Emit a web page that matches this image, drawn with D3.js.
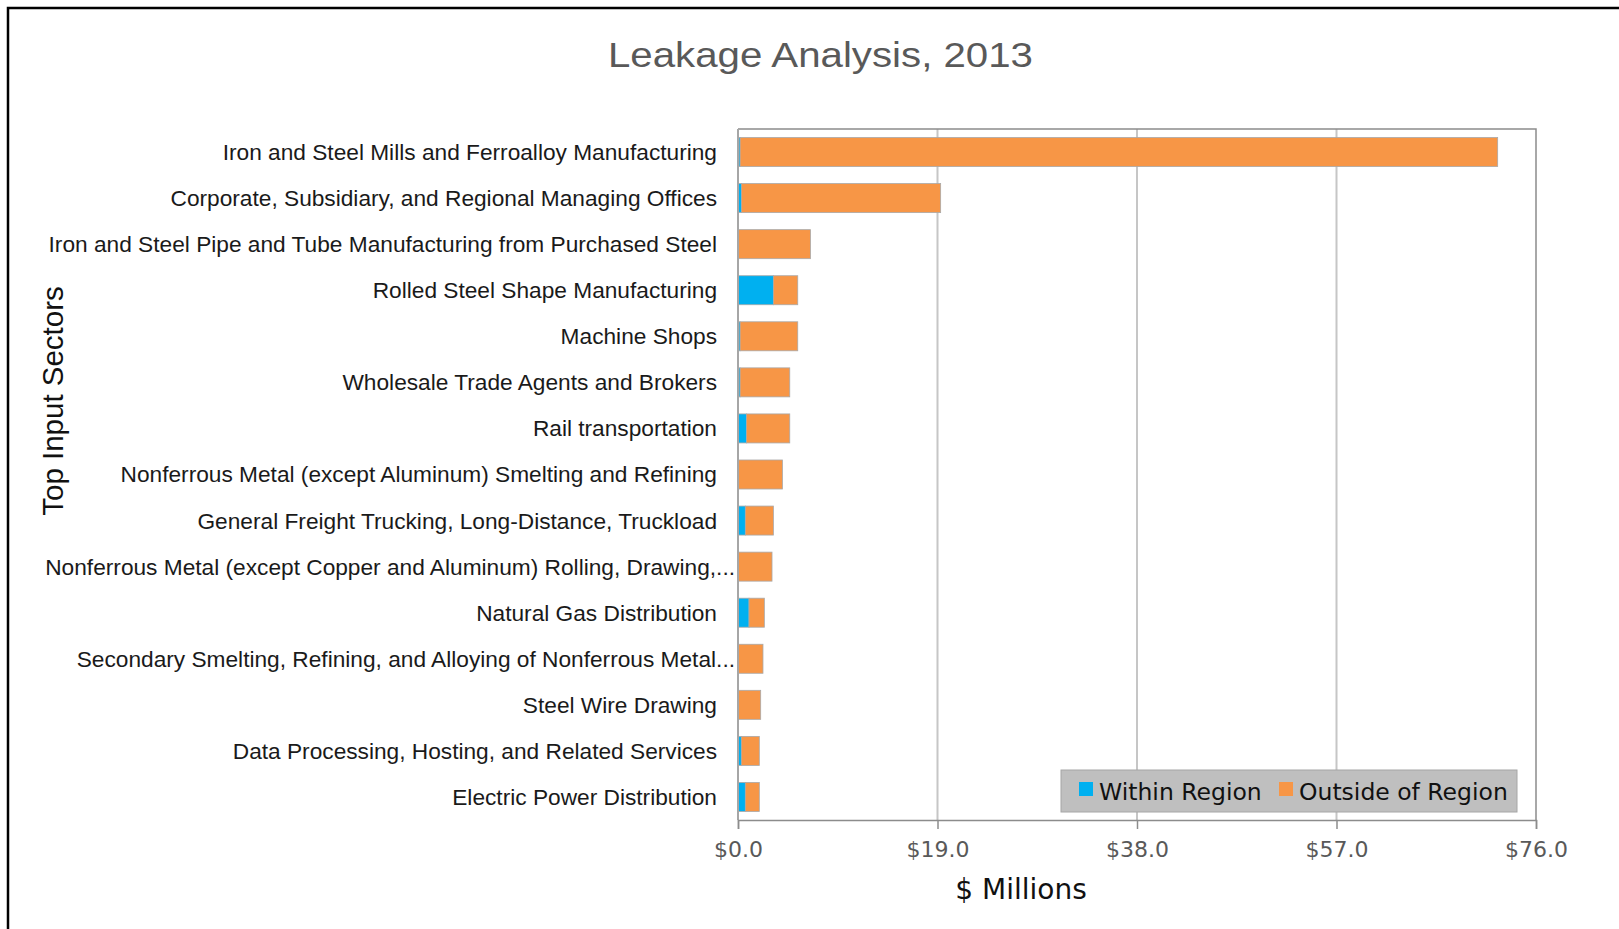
<!DOCTYPE html>
<html>
<head>
<meta charset="utf-8">
<script src="https://cdn.jsdelivr.net/npm/d3@7"></script>
<style>
  html, body { margin: 0; padding: 0; background: #fff; }
  svg { display: block; }
</style>
</head>
<body>
<svg id="chart" width="1619" height="929"></svg>
<script>
const categories = [
  "Iron and Steel Mills and Ferroalloy Manufacturing",
  "Corporate, Subsidiary, and Regional Managing Offices",
  "Iron and Steel Pipe and Tube Manufacturing from Purchased Steel",
  "Rolled Steel Shape Manufacturing",
  "Machine Shops",
  "Wholesale Trade Agents and Brokers",
  "Rail transportation",
  "Nonferrous Metal (except Aluminum) Smelting and Refining",
  "General Freight Trucking, Long-Distance, Truckload",
  "Nonferrous Metal (except Copper and Aluminum) Rolling, Drawing,...",
  "Natural Gas Distribution",
  "Secondary Smelting, Refining, and Alloying of Nonferrous Metal...",
  "Steel Wire Drawing",
  "Data Processing, Hosting, and Related Services",
  "Electric Power Distribution"
];
const withinRegion  = [0.2, 0.33, 0.05, 3.37, 0.2, 0.2, 0.8, 0.03, 0.7, 0.03, 1.05, 0.03, 0.03, 0.32, 0.7];
const outsideRegion = [72.15, 18.97, 6.85, 2.32, 5.49, 4.73, 4.13, 4.2, 2.67, 3.21, 1.46, 2.35, 2.13, 1.71, 1.33];
const seriesNames = ["Within Region", "Outside of Region"];
const xTicks = [0, 19, 38, 57, 76];
const titleText = "Leakage Analysis, 2013";
const xTitle = "$ Millions";
const yTitle = "Top Input Sectors";

const colors = ["#00b0f0", "#f79646"];
const svg = d3.select("#chart");

// outer frame
svg.append("rect").attr("x", 8).attr("y", 8).attr("width", 1700).attr("height", 1000)
  .attr("fill", "none").attr("stroke", "#000").attr("stroke-width", 2.5);

const plot = { left: 738, right: 1536, top: 129, bottom: 820 };
const x = d3.scaleLinear().domain([0, 76]).range([plot.left, plot.right]);
const y = d3.scaleBand().domain(categories).range([plot.top, plot.bottom])
  .paddingInner(0.37).paddingOuter(0.185);

// gridlines
svg.append("g").selectAll("line").data(xTicks.slice(1, -1)).join("line")
  .attr("x1", d => x(d)).attr("x2", d => x(d))
  .attr("y1", plot.top).attr("y2", plot.bottom)
  .attr("stroke", "#c6c6c6").attr("stroke-width", 2);

// plot border top/right
svg.append("path")
  .attr("d", `M${plot.left},${plot.top}H${plot.right}V${plot.bottom}`)
  .attr("fill", "none").attr("stroke", "#8c8c8c").attr("stroke-width", 1.5);

// stacked data
const rows = categories.map((c, i) => ({ cat: c, v: [withinRegion[i], outsideRegion[i]] }));
const stack = d3.stack().keys([0, 1]).value((d, k) => d.v[k]);
const layers = stack(rows);

svg.append("g").selectAll("g").data(layers).join("g")
  .attr("fill", (d, i) => colors[i])
  .selectAll("rect").data(d => d).join("rect")
  .attr("x", d => x(d[0]))
  .attr("y", d => y(d.data.cat))
  .attr("width", d => x(d[1]) - x(d[0]))
  .attr("height", y.bandwidth())
  .attr("stroke", "#a9a9a9").attr("stroke-width", 0.8);

// left axis line
svg.append("line").attr("x1", plot.left).attr("x2", plot.left)
  .attr("y1", plot.top).attr("y2", plot.bottom)
  .attr("stroke", "#a6a6a6").attr("stroke-width", 2);

// bottom axis
const xAxis = d3.axisBottom(x).tickValues(xTicks).tickSize(9).tickPadding(12)
  .tickFormat(d => "$" + d3.format(".1f")(d));
const gx = svg.append("g").attr("transform", `translate(0,${plot.bottom})`).call(xAxis);
gx.select(".domain").attr("stroke", "#8c8c8c").attr("stroke-width", 1.5);
gx.selectAll(".tick line").attr("stroke", "#8c8c8c").attr("stroke-width", 1.5);
gx.selectAll(".tick text").attr("fill", "#595959")
  .style("font-family", "'DejaVu Sans', sans-serif").style("font-size", "22px");

// category labels
const labelG = svg.append("g")
  .style("font-family", "'Liberation Sans', Arial, sans-serif")
  .style("font-size", "22.7px").attr("fill", "#1a1a1a");
labelG.selectAll("text").data(categories).join("text")
  .attr("x", d => d.endsWith("...") ? plot.left - 3 : 717)
  .attr("y", d => y(d) + y.bandwidth() / 2)
  .attr("dy", "0.35em")
  .attr("text-anchor", "end")
  .text(d => d);

// title
svg.append("text").attr("x", 820.5).attr("y", 67)
  .attr("text-anchor", "middle").attr("fill", "#595959")
  .style("font-family", "'Liberation Sans', Arial, sans-serif").style("font-size", "35px")
  .attr("textLength", 425).attr("lengthAdjust", "spacingAndGlyphs")
  .text(titleText);

// x title
svg.append("text").attr("x", 1021).attr("y", 899)
  .attr("text-anchor", "middle").attr("fill", "#111")
  .style("font-family", "'DejaVu Sans', sans-serif").style("font-size", "28px")
  .text(xTitle);

// y title
svg.append("text").attr("transform", "translate(63,401) rotate(-90)")
  .attr("text-anchor", "middle").attr("fill", "#111")
  .style("font-family", "'Liberation Sans', Arial, sans-serif").style("font-size", "29.5px")
  .text(yTitle);

// legend
const lg = svg.append("g");
lg.append("rect").attr("x", 1061).attr("y", 770).attr("width", 456).attr("height", 42)
  .attr("fill", "#bfbfbf").attr("stroke", "#a6a6a6").attr("stroke-width", 1);
const legendX = [1079, 1279];
seriesNames.forEach((name, i) => {
  lg.append("rect").attr("x", legendX[i]).attr("y", 782).attr("width", 14).attr("height", 14)
    .attr("fill", colors[i]);
  lg.append("text").attr("x", legendX[i] + 20).attr("y", 799.5)
    .attr("fill", "#111")
    .style("font-family", "'DejaVu Sans', sans-serif").style("font-size", "23.5px")
    .text(name);
});
</script>
</body>
</html>
